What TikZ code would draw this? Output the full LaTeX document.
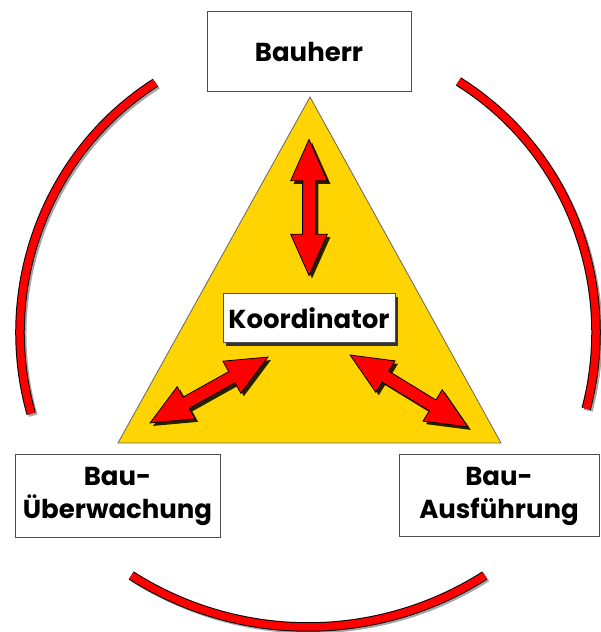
\documentclass[tikz,border=0pt]{standalone}
\usepackage{fontspec}
\setmainfont{Poppins}
\usepackage{tikz}
\usetikzlibrary{calc,shapes.arrows,shadows}
\definecolor{triGold}{HTML}{FFD400}
\definecolor{arrRed}{HTML}{FF0000}
\definecolor{boxLine}{HTML}{4D4D4D}

\begin{document}
\begin{tikzpicture}[
  x=1pt, y=1pt,
  box/.style={draw=boxLine, line width=1pt, fill=white, inner sep=0pt, align=center, font=\fontsize{26}{33}\selectfont\bfseries},
  dblarr/.style={double arrow, fill=arrRed, draw=black, line width=0.8pt, inner sep=6pt, minimum height=136pt, double arrow head extend=12pt, double arrow tip angle=48, drop shadow={shadow xshift=3pt, shadow yshift=-3pt, fill=black, opacity=0.85}},
  ring/.style={draw=black, line width=1pt, double=arrRed, double distance=7.5pt},
  ringshadow/.style={draw=black!35, line width=9pt}
]
\clip (0,0) rectangle (601,632);

% ring arcs round the triangle
\coordinate (rc) at (308,299.5);
\draw[ringshadow] ($(rc)+(122:288 and 294.5)+(2,-2)$) arc[start angle=122, end angle=196, x radius=288, y radius=294.5];
\draw[ring] ($(rc)+(122:288 and 294.5)$) arc[start angle=122, end angle=196, x radius=288, y radius=294.5];
\draw[ringshadow] ($(rc)+(58.5:288 and 294.5)+(2,-2)$) arc[start angle=58.5, end angle=-15, x radius=288, y radius=294.5];
\draw[ring] ($(rc)+(58.5:288 and 294.5)$) arc[start angle=58.5, end angle=-15, x radius=288, y radius=294.5];
% bottom arc is flatter
\coordinate (rb) at (308,334);
\draw[ringshadow] ($(rb)+(237.5:329)+(2,-2)$) arc[start angle=237.5, end angle=302.5, radius=329];
\draw[ring] ($(rb)+(237.5:329)$) arc[start angle=237.5, end angle=302.5, radius=329];

% triangle
\coordinate (apex) at (310,535);
\coordinate (tl) at (118,189);
\coordinate (tr) at (501,189);
\draw[fill=triGold, draw=black!60, line width=0.8pt] (apex) -- (tl) -- (tr) -- cycle;

% double arrows
\coordinate (up1) at (309,492);
\coordinate (up2) at (309,357);
\node[dblarr, rotate=90] (arrUp) at ($(up1)!0.5!(up2)$) {};
\coordinate (lf1) at (150,209);
\coordinate (lf2) at (268,275);
\node[dblarr, rotate=29.2, minimum height=135pt] (arrLeft) at ($(lf1)!0.5!(lf2)$) {};
\coordinate (rt1) at (350,277);
\coordinate (rt2) at (468,205);
\node[dblarr, rotate=-31.4, minimum height=138pt] (arrRight) at ($(rt1)!0.5!(rt2)$) {};

% boxes
\node[box, minimum width=204pt, minimum height=80pt] (bauherr) at (309,580) {Bauherr};
\node[box, minimum width=172pt, minimum height=49pt, drop shadow={shadow xshift=3pt, shadow yshift=-3pt, fill=black!80, opacity=1}] (koord) at (309,313.5) {Koordinator};
\node[box, minimum width=205pt, minimum height=83pt] (ueberw) at (117.5,135.5) {Bau-\\Überwachung};
\node[box, minimum width=200pt, minimum height=82pt] (ausf) at (499,136) {Bau-\\Ausführung};
\end{tikzpicture}
\end{document}
